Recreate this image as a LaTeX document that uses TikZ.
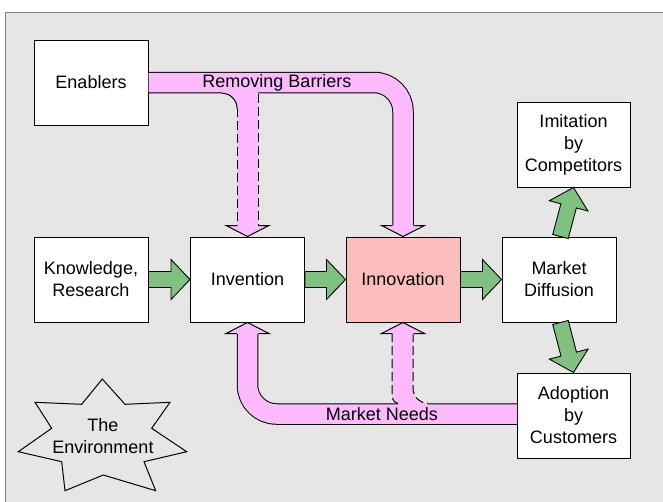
\documentclass[tikz,border=0pt]{standalone}
\usepackage{fontspec}
\setmainfont{Liberation Sans}
\usetikzlibrary{calc}

\definecolor{bggray}{HTML}{E6E6E6}
\definecolor{framegray}{HTML}{808080}
\definecolor{pinkc}{HTML}{FDBBFD}
\definecolor{innofill}{HTML}{FCBDBD}
\definecolor{greenc}{HTML}{80C080}

\tikzset{
  box/.style={draw=black, line width=1pt, fill=white, minimum width=114pt,
    minimum height=85pt, align=center, inner sep=2pt},
  garrow/.style={draw=black, line width=0.9pt, fill=greenc, line join=miter},
  band/.style={draw=black, line width=1pt, double=pinkc,
    double distance=19.5pt, rounded corners=29pt},
  edge/.style={draw=black, line width=1pt},
  dashedge/.style={draw=black, line width=1pt, dash pattern=on 9pt off 4pt},
  lbl/.style={inner sep=0pt},
}

% green block arrow from tail #1 to tip #2
\newcommand\blockarrow[2]{%
  \coordinate (bah) at ($(#2)!19pt!(#1)$);
  \filldraw[garrow] ($(#1)!8pt!90:(#2)$) -- ($(bah)!8pt!90:(#2)$)
    -- ($(bah)!20pt!90:(#2)$) -- (#2) -- ($(bah)!20pt!-90:(#2)$)
    -- ($(bah)!8pt!-90:(#2)$) -- ($(#1)!8pt!-90:(#2)$) -- cycle;}

% flat pink arrow heads (tip at #1), pointing down / up
\newcommand\headdown[1]{%
  \fill[pinkc] ($(#1)+(-9.5,-12)$) -- ($(#1)+(-9.5,-11)$) -- ($(#1)+(-21.5,-11)$)
    -- (#1) -- ($(#1)+(21.5,-11)$) -- ($(#1)+(9.5,-11)$) -- ($(#1)+(9.5,-12)$) -- cycle;
  \draw[edge, line join=miter] ($(#1)+(-10.75,-11)$) -- ($(#1)+(-21.5,-11)$)
    -- (#1) -- ($(#1)+(21.5,-11)$) -- ($(#1)+(10.75,-11)$);}
\newcommand\headup[1]{%
  \fill[pinkc] ($(#1)+(-9.5,12)$) -- ($(#1)+(-9.5,11)$) -- ($(#1)+(-21.5,11)$)
    -- (#1) -- ($(#1)+(21.5,11)$) -- ($(#1)+(9.5,11)$) -- ($(#1)+(9.5,12)$) -- cycle;
  \draw[edge, line join=miter] ($(#1)+(-10.75,11)$) -- ($(#1)+(-21.5,11)$)
    -- (#1) -- ($(#1)+(21.5,11)$) -- ($(#1)+(10.75,11)$);}

\begin{document}
\begin{tikzpicture}[x=1pt, y=-1pt, font=\fontsize{18}{22}\selectfont]
\useasboundingbox (0,0) rectangle (663,501);

% backdrop
\fill[bggray] (5,12) rectangle (680,520);
\draw[framegray, line width=1pt] (5,520) -- (5,12) -- (680,12);

% boxes
\node[box] (en) at (91,82.5) {Enablers};
\node[box] (kr) at (91,279.5) {Knowledge,\\Research};
\node[box] (inv) at (247.5,279.5) {Invention};
\node[box, fill=innofill] (inno) at (403,279.5) {Innovation};
\node[box] (md) at (559,279.5) {Market\\Diffusion};
\node[box, minimum width=113pt] (imi) at (573.5,144.5) {Imitation\\by\\Competitors};
\node[box, minimum width=113pt] (ad) at (573.5,415.5) {Adoption\\by\\Customers};

% green flow arrows
\coordinate (mdtop) at ($(md.north)+(1.5,0)$);
\coordinate (mdbot) at ($(md.south)+(1.5,0)$);
\blockarrow{kr.east}{inv.west}
\blockarrow{inv.east}{inno.west}
\blockarrow{inno.east}{md.west}
\blockarrow{mdtop}{imi.south}
\blockarrow{mdbot}{ad.north}

% Removing Barriers: Enablers -> Innovation
\draw[band] (en.east) -| ($(inno.north)+(0,-11)$);
\headdown{inno.north}
% dashed branch down to Invention
\fill[pinkc] (222,93.25) .. controls (230.3,93.25) and (237,100) .. (237,108.25)
  -- (237,226.5) -- (258,226.5) -- (258,92) -- (222,92) -- cycle;
\draw[edge] (222,93.25) .. controls (230.3,93.25) and (237,100) .. (237,108.25);
\draw[dashedge] (237,108.25) -- (237,226);
\draw[dashedge] (258,93.75) -- (258,226);
\headdown{inv.north}
\node[lbl] (rb) at (277,82.5) {Removing Barriers};

% Market Needs: Adoption -> Invention
\coordinate (mnstart) at (517,414);
\draw[band] (mnstart) -| ($(inv.south)+(0,11)$);
\headup{inv.south}
% dashed branch up to Innovation
\fill[pinkc] (392,333.5) -- (392,395) .. controls (392,400) and (395,403.25) .. (398,403.25)
  -- (398,405) -- (428,405) -- (428,403.25)
  .. controls (419.7,403.25) and (413,396.5) .. (413,388.25) -- (413,333.5) -- cycle;
\draw[dashedge] (392,333) -- (392,395) .. controls (392,400) and (395,403.25) .. (398,403.25);
\draw[dashedge] (413,333) -- (413,388.25) .. controls (413,396.5) and (419.7,403.25) .. (428,403.25);
\headup{inno.south}
\node[lbl] (mn) at (382,414) {Market Needs};

% the environment
\draw[edge, line join=miter] (102.3,379) -- (125,404.3) -- (170,402.3) -- (151.7,428.3)
  -- (186.7,451.7) -- (144,461.7) -- (155.7,490.7) -- (103.3,475) -- (65,490.7)
  -- (61.7,461.7) -- (18.3,451.7) -- (51.7,428.3) -- (35,402.3) -- (81.7,404.3) -- cycle;
\node[align=center, inner sep=0pt] (env) at (103,436) {The\\Environment};
\end{tikzpicture}
\end{document}
